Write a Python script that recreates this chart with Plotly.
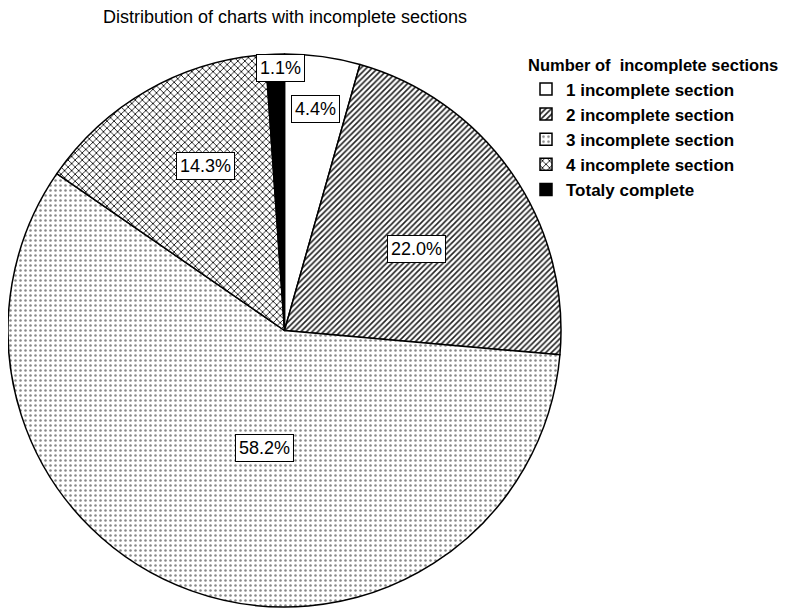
import math
import plotly.graph_objects as go

# Slice data (clockwise from 12 o'clock)
labels = ["1 incomplete section", "2 incomplete section", "3 incomplete section",
          "4 incomplete section", "Totaly complete"]
percents = [4.4, 22.0, 58.2, 14.3, 1.1]

# Styling per slice
shapes = ["", "/", ".", "x", ""]
fills = ["white", "white", "white", "white", "black"]
fg = ["black", "#222222", "#888888", "black", "black"]
sizes = [6, 4, 5, 5, 6]
solid = [0.3, 0.4, 0.2, 0.3, 0.3]
# label placement: fraction of radius and small angle nudge (degrees)
label_radius = [0.81, 0.56, 0.43, 0.66, 0.95]
label_nudge = [0, 3, -10, 4, 1]

W, H = 787, 616
OFF = 8  # page body margin
cx, cy = 284.5 - OFF, 330.5 - OFF
R = cx  # domain cannot go past the left edge

FONT = "Liberation Sans, Arial"

fig = go.Figure(go.Pie(
    labels=labels,
    values=percents,
    sort=False,
    direction="clockwise",
    rotation=0,
    textinfo="none",
    hoverinfo="label+percent",
    marker=dict(
        colors=fills,
        line=dict(color="black", width=1.5),
        pattern=dict(shape=shapes, fgcolor=fg, bgcolor=fills, size=sizes, solidity=solid),
    ),
    domain=dict(x=[(cx - R) / W, (cx + R) / W], y=[1 - (cy + R) / H, 1 - (cy - R) / H]),
))

# Boxed percentage labels placed from cumulative angles
annotations = []
total = sum(percents)
cum = 0
for p, f, nd in zip(percents, label_radius, label_nudge):
    mid = (cum + p / 2) / total * 2 * math.pi + math.radians(nd)
    cum += p
    x = cx + R * f * math.sin(mid)
    y = cy - R * f * math.cos(mid)
    annotations.append(dict(
        x=x / W, y=1 - y / H, xref="paper", yref="paper",
        xanchor="center", yanchor="middle",
        text=f"{p:.1f}%", showarrow=False,
        font=dict(family=FONT, size=18, color="black"),
        bgcolor="white", bordercolor="black", borderwidth=1, borderpad=3,
    ))

fig.update_layout(
    width=W, height=H,
    margin=dict(l=0, r=0, t=0, b=0),
    paper_bgcolor="white",
    plot_bgcolor="white",
    title=dict(text="Distribution of charts with incomplete sections",
               x=(285 - OFF) / W, xanchor="center", y=1 - 2 / H, yanchor="top",
               font=dict(family=FONT, size=18, color="black")),
    legend=dict(
        title=dict(text="<b>Number of  incomplete sections</b>",
                   font=dict(family=FONT, size=16.5, color="black"),
                   side="top"),
        font=dict(family=FONT, size=17, color="black", weight="bold"),
        x=(526 - OFF) / W, xanchor="left", y=1 - (50 - OFF) / H, yanchor="top",
        itemwidth=30, tracegroupgap=0,
        bgcolor="rgba(0,0,0,0)",
    ),
    annotations=annotations,
)

fig.write_html("out.html")
